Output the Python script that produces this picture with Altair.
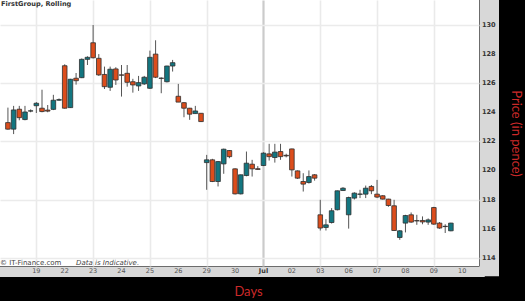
import altair as alt
import pandas as pd

# ---- data (5 intraday candles per trading day) ----
day_labels = ["19", "22", "23", "24", "25", "26", "29", "30", "Jul",
              "02", "03", "06", "07", "08", "09", "10"]
day_start_index = [5, 10, 15, 20, 25, 30, 35, 40, 45, 50, 55, 60, 65, 70, 75, 80]
price_ticks = [114, 116, 118, 120, 122, 124, 126, 128, 130]

opens = [123.29, 122.84, 124.21, 123.50, 124.08, 124.45, 124.28, 124.15, 124.20, 124.83,
         127.20, 124.32, 126.34, 126.38, 127.64, 128.78, 127.71, 126.60, 125.72, 126.98,
         126.57, 126.68, 126.10, 125.81, 125.95, 125.65, 128.00, 126.35, 126.10, 127.18,
         125.10, 124.66, 124.28, 123.91, 123.93, 120.54, 120.73, 119.24, 120.45, 121.37,
         120.11, 118.39, 119.65, 120.43, 120.12, 120.34, 121.14, 120.89, 121.30, 121.04,
         121.48, 119.97, 119.24, 119.17, 119.70, 116.95, 116.08, 116.42, 117.30, 118.62,
         116.95, 118.10, 118.36, 118.37, 118.90, 118.37, 118.26, 118.03, 117.57, 115.39,
         116.38, 116.95, 116.55, 116.56, 116.45, 117.45, 116.38, 116.16, 115.85]
highs = [124.32, 124.44, 124.44, 124.44, 124.20, 124.70, 125.55, 124.50, 125.20, 124.95,
         127.30, 126.30, 126.70, 127.70, 127.85, 130.00, 128.00, 127.14, 127.14, 127.10,
         127.25, 127.25, 126.30, 126.50, 126.50, 128.24, 128.95, 126.40, 127.20, 127.60,
         125.95, 124.70, 124.30, 124.44, 123.95, 121.07, 120.80, 120.65, 121.50, 121.40,
         120.15, 119.72, 121.30, 120.73, 120.30, 121.25, 121.83, 121.83, 121.83, 121.15,
         121.50, 120.00, 119.81, 120.00, 119.75, 117.98, 116.65, 117.41, 118.62, 118.85,
         118.20, 118.50, 118.67, 118.96, 119.00, 119.35, 118.30, 118.05, 117.98, 115.90,
         116.95, 117.11, 116.95, 116.84, 116.70, 117.50, 116.45, 116.30, 116.40]
lows = [122.80, 122.50, 123.45, 123.45, 124.00, 123.95, 124.00, 124.00, 124.15, 124.80,
        124.25, 124.30, 125.90, 126.35, 127.25, 127.70, 126.50, 125.60, 125.47, 125.88,
        125.08, 125.76, 125.35, 125.47, 125.88, 125.60, 126.35, 125.31, 126.05, 126.80,
        124.70, 123.66, 123.48, 123.90, 123.33, 118.67, 119.20, 118.90, 119.77, 120.84,
        118.35, 118.35, 119.60, 119.58, 120.05, 120.30, 120.68, 120.54, 120.73, 120.90,
        119.58, 119.42, 118.55, 119.10, 119.30, 115.87, 115.87, 116.35, 117.25, 118.60,
        116.00, 118.00, 118.10, 118.10, 118.37, 118.10, 118.00, 117.50, 115.85, 115.23,
        115.74, 116.40, 116.26, 116.30, 116.26, 116.26, 115.99, 115.70, 115.82]
closes = [122.84, 124.16, 123.63, 124.02, 124.10, 124.62, 124.05, 124.08, 124.83, 124.87,
          124.28, 126.27, 126.17, 127.64, 127.78, 127.75, 126.57, 125.76, 126.96, 126.22,
          126.55, 126.06, 125.88, 126.04, 126.41, 127.78, 126.41, 126.33, 127.18, 127.41,
          124.70, 124.28, 123.87, 124.09, 123.36, 120.73, 119.24, 120.61, 121.46, 120.95,
          118.39, 119.70, 120.50, 120.11, 120.07, 121.19, 120.95, 121.26, 120.95, 121.00,
          120.04, 119.47, 119.06, 119.58, 119.47, 116.04, 116.26, 117.23, 118.60, 118.78,
          118.14, 118.44, 118.38, 118.78, 118.60, 118.17, 118.03, 117.59, 115.87, 115.85,
          116.90, 116.45, 116.53, 116.46, 116.60, 116.31, 116.04, 116.14, 116.38]

df = pd.DataFrame({
    "i": list(range(len(opens))),
    "open": opens, "high": highs, "low": lows, "close": closes,
})
df["dir"] = ["up" if c >= o else "down" for o, c in zip(opens, closes)]

xlab = pd.DataFrame({"i": day_start_index, "lab": day_labels})
ylab = pd.DataFrame({"p": price_ticks, "lab": [str(v) for v in price_ticks]})

TEAL = "#137680"
ORANGE = "#dc4d1c"
TITLE_RED = "#cc2a2a"
BAND = "#d8d8d8"

xs = alt.Scale(domain=[-0.517, 82.07], nice=False, zero=False)
ys = alt.Scale(domain=[113.43, 131.72], nice=False, zero=False)

# axes: grid, grey band (domain) and titles; labels are drawn as text marks on top
x_axis = alt.Axis(
    orient="bottom", values=day_start_index, labels=False,
    offset=5.25, domainWidth=10.5, domainColor=BAND, domainCap="square",
    ticks=False, grid=True,
    gridColor=alt.condition("datum.value == 45", alt.value("#cbcbcb"), alt.value("#eaeaea")),
    gridWidth=alt.condition("datum.value == 45", alt.value(2.2), alt.value(1.6)),
    title="Days", titleFont="Lato", titleFontSize=13, titleFontWeight="normal",
    titleColor=TITLE_RED, titleX=248, titleY=20.5, titleAlign="center",
    titleBaseline="middle",
)
y_axis = alt.Axis(
    orient="right", values=price_ticks, labels=False,
    offset=9.75, domainWidth=19.5, domainColor=BAND, domainCap="square",
    ticks=False, grid=True, gridColor="#ebebeb", gridWidth=1.6,
    title="Price (in pence)", titleFont="Lato", titleFontSize=13, titleFontWeight="normal",
    titleColor=TITLE_RED, titleAngle=90, titleX=27, titleY=133,
    titleAlign="center", titleBaseline="middle",
)

base = alt.Chart(df)

wicks = base.mark_rule(color="#555555", strokeWidth=1).encode(
    x=alt.X("i:Q", scale=xs, axis=x_axis),
    y=alt.Y("low:Q", scale=ys, axis=y_axis),
    y2="high:Q",
)

bodies = base.mark_bar(size=4.6, stroke="#2e2e2e", strokeWidth=0.8).encode(
    x=alt.X("i:Q", scale=xs),
    y=alt.Y("open:Q", scale=ys),
    y2="close:Q",
    color=alt.Color("dir:N", scale=alt.Scale(domain=["up", "down"], range=[TEAL, ORANGE]),
                    legend=None),
)

x_labels = alt.Chart(xlab).transform_filter("datum.lab != 'Jul'").mark_text(
    align="center", baseline="middle", font="DejaVu Sans", fontSize=6.5, color="#555555",
).encode(
    x=alt.X("i:Q", scale=xs),
    y=alt.value(271.4),
    text="lab:N",
)

x_label_month = alt.Chart(xlab).transform_filter("datum.lab == 'Jul'").mark_text(
    align="center", baseline="middle", font="DejaVu Sans", fontSize=6.5,
    fontWeight="bold", color="#333333",
).encode(
    x=alt.X("i:Q", scale=xs),
    y=alt.value(271.4),
    text="lab:N",
)

y_labels = alt.Chart(ylab).mark_text(
    align="center", baseline="middle", font="DejaVu Sans", fontSize=6.6,
    fontWeight="bold", color="#333333",
).encode(
    x=alt.value(488.8),
    y=alt.Y("p:Q", scale=ys),
    text="lab:N",
)

title_txt = alt.Chart(pd.DataFrame({"t": ["FirstGroup, Rolling"]})).mark_text(
    align="left", baseline="top", font="DejaVu Sans", fontSize=6.6,
    fontWeight="bold", color="#333333",
).encode(x=alt.value(1), y=alt.value(1.2), text="t:N")

copy_txt = alt.Chart(pd.DataFrame({"t": ["\u00a9 IT-Finance.com"]})).mark_text(
    align="left", baseline="middle", font="DejaVu Sans", fontSize=7, color="#444444",
).encode(x=alt.value(0), y=alt.value(262.6), text="t:N")

ind_txt = alt.Chart(pd.DataFrame({"t": ["Data is Indicative."]})).mark_text(
    align="left", baseline="middle", font="DejaVu Sans", fontSize=7,
    fontStyle="italic", color="#444444",
).encode(x=alt.value(76), y=alt.value(262.6), text="t:N")

chart = alt.layer(wicks, bodies, x_labels, x_label_month, y_labels,
                  title_txt, copy_txt, ind_txt).properties(
    width=479, height=266,
    autosize=alt.AutoSizeParams(type="none"),
    padding={"left": 0, "top": 0, "right": 46, "bottom": 35},
    background="black",
).configure_view(fill="white", stroke=None)

chart.save("out.html", embed_options={"renderer": "svg", "actions": False})
